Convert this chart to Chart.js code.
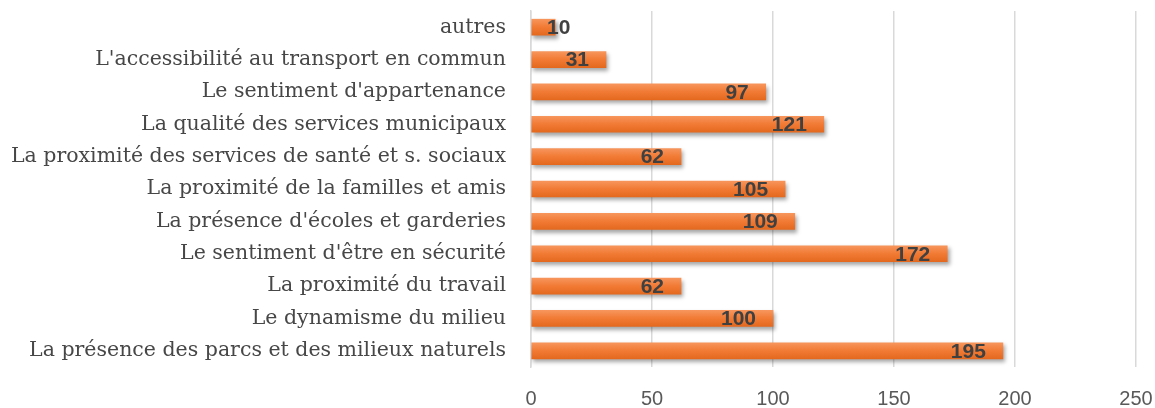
<!DOCTYPE html>
<html>
<head>
<meta charset="utf-8">
<script src="https://cdn.jsdelivr.net/npm/chart.js@4"></script>
<style>
  html, body { margin: 0; padding: 0; background: #fff; }
  #wrap { width: 1155px; height: 408px; }
</style>
</head>
<body>
<div id="wrap"><canvas id="barChart"></canvas></div>
<script>
// Données du graphique (de haut en bas)
const categories = [
    "autres",
    "L'accessibilité au transport en commun",
    "Le sentiment d'appartenance",
    "La qualité des services municipaux",
    "La proximité des services de santé et s. sociaux",
    "La proximité de la familles et amis",
    "La présence d'écoles et garderies",
    "Le sentiment d'être en sécurité",
    "La proximité du travail",
    "Le dynamisme du milieu",
    "La présence des parcs et des milieux naturels"
];
const values = [10, 31, 97, 121, 62, 105, 109, 172, 62, 100, 195];
const xTicks = [0, 50, 100, 150, 200, 250];

// Dégradé orange pour chaque barre
function barGradient(context) {
    const chart = context.chart;
    const yScale = chart.scales.y;
    if (!chart.chartArea || !yScale) return '#f07a35';
    const yc = yScale.getPixelForValue(context.dataIndex);
    const g = chart.ctx.createLinearGradient(0, yc - 8, 0, yc + 8);
    g.addColorStop(0, '#f7955c');
    g.addColorStop(0.5, '#f17a34');
    g.addColorStop(1, '#e4691f');
    return g;
}

// Ombre sous les barres
const shadowPlugin = {
    id: 'barShadow',
    beforeDatasetsDraw(chart) {
        const ctx = chart.ctx;
        ctx.save();
        ctx.shadowColor = 'rgba(0,0,0,0.35)';
        ctx.shadowBlur = 4;
        ctx.shadowOffsetX = 2;
        ctx.shadowOffsetY = 3;
    },
    afterDatasetsDraw(chart) {
        chart.ctx.restore();
    }
};

// Étiquettes de valeur à l'intérieur de l'extrémité
const labelPlugin = {
    id: 'valueLabels',
    afterDatasetsDraw(chart) {
        const ctx = chart.ctx;
        const meta = chart.getDatasetMeta(0);
        const x0 = chart.scales.x.getPixelForValue(0);
        ctx.save();
        ctx.font = 'bold 21px "Liberation Sans", Arial, sans-serif';
        ctx.fillStyle = '#404040';
        ctx.textBaseline = 'middle';
        ctx.textAlign = 'left';
        meta.data.forEach((bar, i) => {
            const txt = String(values[i]);
            const w = ctx.measureText(txt).width;
            let x = bar.x - 17 - w;
            if (x < x0 + 16) x = x0 + 16;
            ctx.fillText(txt, x, bar.y + 1);
        });
        ctx.restore();
    }
};

const ctx = document.getElementById('barChart').getContext('2d');
new Chart(ctx, {
    type: 'bar',
    data: {
        labels: categories,
        datasets: [{
            data: values,
            backgroundColor: barGradient,
            borderWidth: 0,
            barThickness: 16
        }]
    },
    plugins: [shadowPlugin, labelPlugin],
    options: {
        indexAxis: 'y',
        responsive: true,
        maintainAspectRatio: false,
        animation: false,
        layout: { padding: { top: 11, right: 19, left: 0, bottom: 0 } },
        plugins: {
            legend: { display: false },
            tooltip: { enabled: false }
        },
        scales: {
            x: {
                min: 0,
                max: 250,
                afterBuildTicks: (scale) => { scale.ticks = xTicks.map(v => ({ value: v })); },
                grid: { color: '#d9d9d9', lineWidth: 1.5, drawTicks: false },
                border: { display: false },
                ticks: {
                    color: '#595959',
                    padding: 20,
                    font: { family: '"Liberation Sans", Arial, sans-serif', size: 20 }
                },
                afterFit: (scale) => {
                    scale.height = 41;
                    scale.paddingLeft = 0;
                    scale.paddingRight = 0;
                }
            },
            y: {
                grid: { display: false, drawTicks: false },
                border: { display: true, color: '#d9d9d9', width: 1.5 },
                ticks: {
                    color: '#474747',
                    padding: 25,
                    font: { family: '"DejaVu Serif", serif', size: 20.5 }
                },
                afterFit: (scale) => {
                    scale.width = 531;
                    scale.paddingTop = 0;
                    scale.paddingBottom = 0;
                }
            }
        }
    }
});
</script>
</body>
</html>
